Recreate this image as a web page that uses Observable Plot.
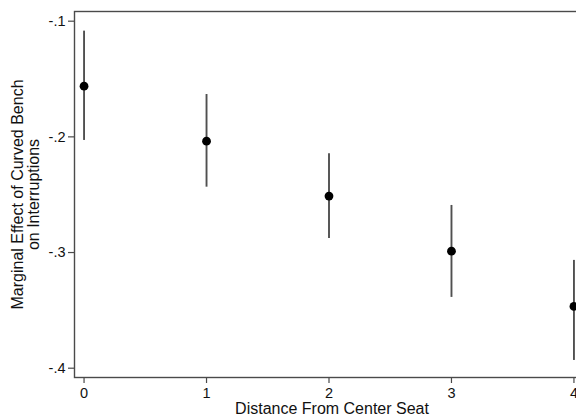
<!DOCTYPE html>
<html>
<head>
<meta charset="utf-8">
<script src="https://cdn.jsdelivr.net/npm/d3@7"></script>
<script src="https://cdn.jsdelivr.net/npm/@observablehq/plot@0.6"></script>
<style>
  html, body { margin: 0; padding: 0; background: #fff; overflow: hidden; }
  #chart svg { max-width: none !important; }
</style>
</head>
<body>
<div id="chart"></div>
<script>
const distance = [0, 1, 2, 3, 4];
const estimate = [-0.1562, -0.2037, -0.2512, -0.2988, -0.3466];
const ciUpper  = [-0.1086, -0.1634, -0.2146, -0.2593, -0.3068];
const ciLower  = [-0.2031, -0.2435, -0.2878, -0.3388, -0.3933];
const yTicks = [-0.4, -0.3, -0.2, -0.1];
const yTickLabels = ["-.4", "-.3", "-.2", "-.1"];
const xTicks = [0, 1, 2, 3, 4];
const xTickLabels = ["0", "1", "2", "3", "4"];
const xTitle = "Distance From Center Seat";
const yTitle = "Marginal Effect of Curved Bench\non Interruptions";

const data = distance.map((d, i) => ({d, est: estimate[i], hi: ciUpper[i], lo: ciLower[i]}));

const ink = "#4a4a4a";
const chart = Plot.plot({
  width: 590,
  height: 417,
  marginLeft: 74,
  marginRight: 7,
  marginTop: 11,
  marginBottom: 40,
  style: {fontFamily: "'Liberation Sans', Arial, Helvetica, sans-serif", fontSize: "14px", color: "#111", background: "#fff", maxWidth: "none"},
  x: {domain: [-0.078, 4.078]},
  y: {domain: [-0.40804, -0.09162]},
  marks: [
    Plot.frame({stroke: ink, strokeWidth: 1.4}),
    Plot.axisY({ticks: yTicks, tickFormat: (v) => yTickLabels[yTicks.indexOf(v)], tickSize: 6, tickPadding: 3, stroke: ink, strokeWidth: 1.2, fill: "#111", fontSize: 14.5, label: null}),
    Plot.axisX({ticks: xTicks, tickFormat: (v) => xTickLabels[xTicks.indexOf(v)], tickSize: 6, tickPadding: 4, stroke: ink, strokeWidth: 1.2, fill: "#111", fontSize: 14.5, label: null}),
    Plot.ruleX(data, {x: "d", y1: "lo", y2: "hi", stroke: "#505050", strokeWidth: 1.9}),
    Plot.dot(data, {x: "d", y: "est", r: 4.4, fill: "#000", stroke: "none"}),
    Plot.text([xTitle], {frameAnchor: "bottom", dx: 3, dy: 31, lineAnchor: "middle", fill: "#111", fontSize: 16}),
    Plot.text([yTitle], {frameAnchor: "left", dx: -49, rotate: -90, lineAnchor: "middle", textAnchor: "middle", lineHeight: 1.02, fill: "#111", fontSize: 16})
  ]
});
document.getElementById("chart").appendChild(chart);
</script>
</body>
</html>
